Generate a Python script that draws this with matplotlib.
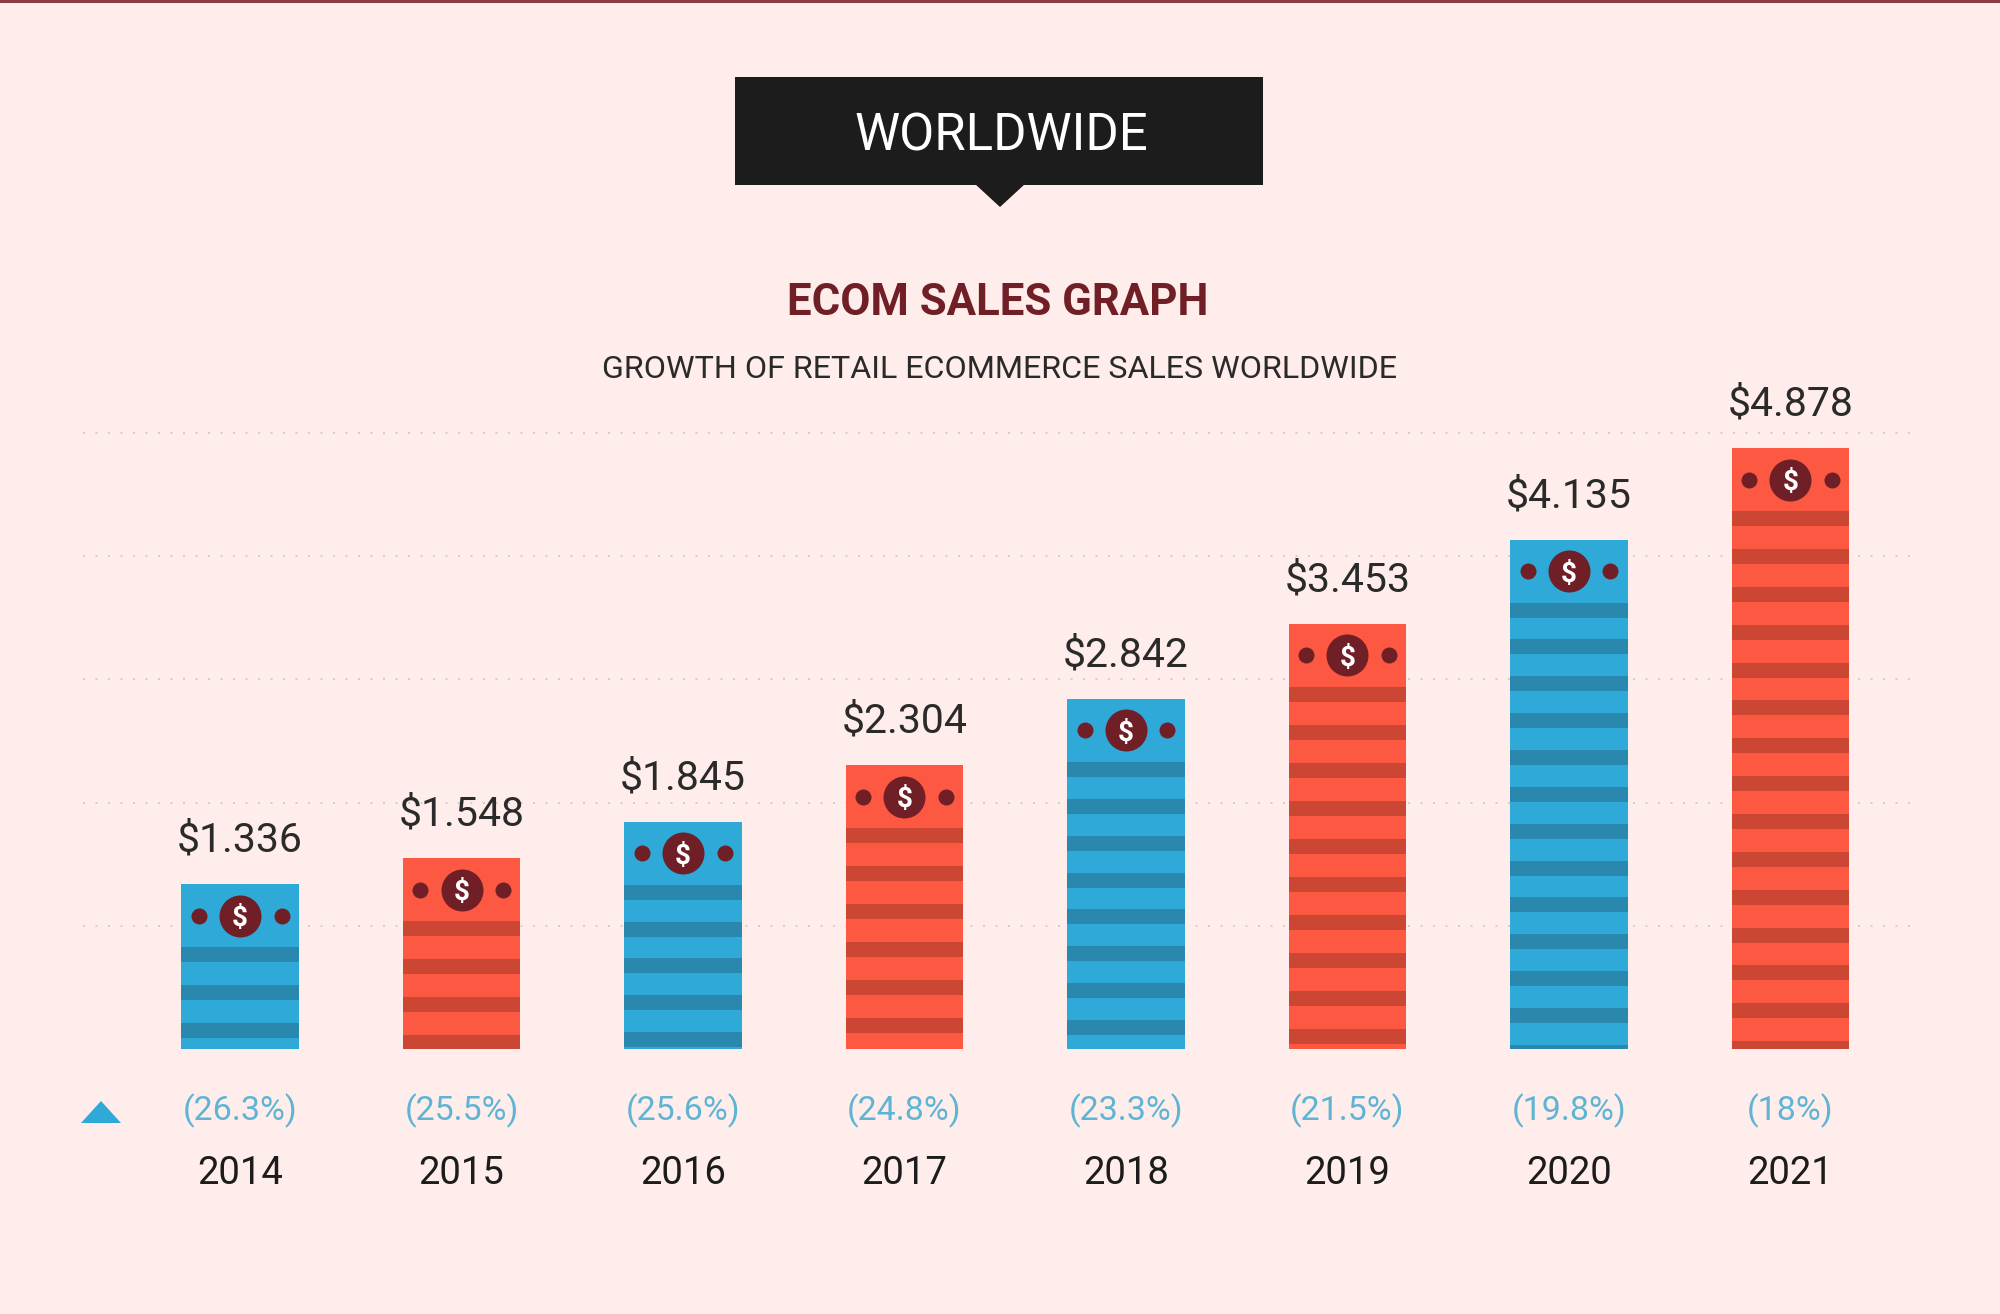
#!/usr/bin/env python3
import matplotlib
matplotlib.use("Agg")
import matplotlib.pyplot as plt
from matplotlib.patches import Polygon, Rectangle
import numpy as np

YEARS = ["2014", "2015", "2016", "2017", "2018", "2019", "2020", "2021"]
SALES = [1.336, 1.548, 1.845, 2.304, 2.842, 3.453, 4.135, 4.878]
GROWTH = ["(26.3%)", "(25.5%)", "(25.6%)", "(24.8%)", "(23.3%)", "(21.5%)", "(19.8%)", "(18%)"]
GRID_VALUES = [1, 2, 3, 4, 5]

BG = "#FEEDEA"
BLUE = "#2FA9D8"
BLUE_DARK = "#2A87AE"
RED = "#FD5842"
RED_DARK = "#CB4733"
MAROON = "#6F1F25"
BLACK = "#1C1C1C"
TEXT = "#2A2A2A"
PCT = "#5FB4D4"
DOTS = "#D8CDCA"

W, H = 2000, 1314
BASE_PX = 1049
PX_PER_UNIT = 123.2
FIRST_X = 240.0
STEP_X = 221.5
PT = 0.72  # points per pixel at dpi 100

plt.rcParams["font.family"] = ["Roboto", "DejaVu Sans"]

fig = plt.figure(figsize=(W / 100, H / 100), dpi=100, facecolor=BG)

# pixel overlay for the header bits
over = fig.add_axes([0, 0, 1, 1], zorder=5)
over.set_xlim(0, W)
over.set_ylim(H, 0)
over.axis("off")

# chart axes: sits on the baseline, runs to the top of the figure
ax = fig.add_axes([0, 1 - BASE_PX / H, 1, BASE_PX / H], zorder=2)
ax.set_facecolor("none")
ax.set_xlim(-FIRST_X / STEP_X, (W - FIRST_X) / STEP_X)
ax.set_ylim(0, BASE_PX / PX_PER_UNIT)
for side in ax.spines.values():
    side.set_visible(False)

x = np.arange(len(YEARS))
sales = np.array(SALES)
colors = [BLUE if i % 2 == 0 else RED for i in x]
darks = [BLUE_DARK if i % 2 == 0 else RED_DARK for i in x]
bar_w = 117.5 / STEP_X

ax.hlines(GRID_VALUES, (83 - FIRST_X) / STEP_X, (1918 - FIRST_X) / STEP_X, color=DOTS,
          lw=2 * PT, linestyles=[(0, (1, 5.25))], zorder=1)
ax.bar(x, sales, width=bar_w, color=colors, zorder=2)

# stripes hang from the top of each bar, cut at the baseline
# the spacing is not quite the same from bar to bar in the original
stripe_steps_px = [37.8, 37.9, 36.9, 38.0, 36.9, 38.0, 36.85, 37.87]
stripe_first = 63 / PX_PER_UNIT
stripe_h = 15 / PX_PER_UNIT
for i, v in zip(x, sales):
    tops = np.arange(v - stripe_first, 0, -stripe_steps_px[i] / PX_PER_UNIT)
    heights = np.minimum(stripe_h, tops)
    ax.bar(np.full(len(tops), i), heights, bottom=tops - heights, width=bar_w, color=darks[i], zorder=3)

# coin and the two dots
coin_y = sales - 31.5 / PX_PER_UNIT
dot_dx = 41.5 / STEP_X
ax.scatter(x, coin_y, s=(42 * PT) ** 2, color=MAROON, linewidths=0, zorder=4)
ax.scatter(np.r_[x - dot_dx, x + dot_dx], np.r_[coin_y, coin_y], s=(16 * PT) ** 2, color=MAROON,
           linewidths=0, zorder=4)
for i, v, cy in zip(x, sales, coin_y):
    ax.text(i, cy, "$", color="white", fontsize=20, fontweight="bold", ha="center", va="center_baseline", zorder=5)
    ax.annotate(f"${v:.3f}", (i, v), xytext=(0, 32.5 * PT), textcoords="offset points", ha="center",
                va="baseline", fontsize=29.5, color=TEXT)
    ax.annotate(GROWTH[i], (i, 0), xytext=(0, -71 * PT), textcoords="offset points", ha="center",
                va="baseline", fontsize=24.5, color=PCT)

ax.set_xticks(x, YEARS)
ax.set_yticks([])
ax.tick_params(axis="x", length=0, pad=76, labelsize=27.5, labelcolor=BLACK)

# top rule
over.add_patch(Rectangle((0, 0), W, 2.5, color="#8A3B44", lw=0))

# black tag
over.add_patch(Rectangle((735, 77), 528, 107.5, color=BLACK, lw=0))
over.add_patch(Polygon([(975, 184), (1025, 184), (1000, 207)], closed=True, color=BLACK, lw=0))
over.text(1001, 131, "WORLDWIDE", color="white", fontsize=36.6, ha="center", va="center_baseline")

over.text(998, 315, "ECOM SALES GRAPH", color=MAROON, fontsize=31.5, fontweight="bold", ha="center", va="baseline")
over.text(999.5, 378, "GROWTH OF RETAIL ECOMMERCE SALES WORLDWIDE", color=TEXT, fontsize=23.2, ha="center",
          va="baseline")

# growth marker
over.add_patch(Polygon([(81, 1123), (121, 1123), (101, 1101)], closed=True, color=BLUE, lw=0))

fig.savefig("out.png", dpi=100, facecolor=BG)
